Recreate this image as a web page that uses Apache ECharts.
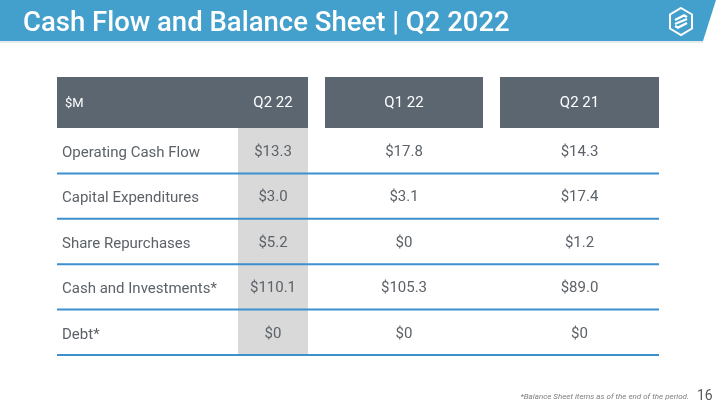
<!DOCTYPE html>
<html><head><meta charset="utf-8">
<script src="https://cdn.jsdelivr.net/npm/echarts@6/dist/echarts.min.js"></script>
<style>html,body{margin:0;padding:0;background:#fff}#c{width:720px;height:405px}</style>
</head><body><div id="c"></div>
<script>
// ---- data ----
const titleText = 'Cash Flow and Balance Sheet | Q2 2022';
const unitLabel = '$M';
const columns = ['Q2 22', 'Q1 22', 'Q2 21'];
const rowLabels = ['Operating Cash Flow', 'Capital Expenditures', 'Share Repurchases', 'Cash and Investments*', 'Debt*'];
const q2_22 = [13.3, 3.0, 5.2, 110.1, 0];
const q1_22 = [17.8, 3.1, 0, 105.3, 0];
const q2_21 = [14.3, 17.4, 1.2, 89.0, 0];
const footnote = '*Balance Sheet items as of the end of the period.';
const pageNum = '16';

// ---- layout (axis units = px within table) ----
const TABLE_W = 602;
const colSpans = [[181, 251], [268, 426], [443, 602]];
const colValues = [q2_22, q1_22, q2_21];
const FONT = "Roboto, 'Noto Sans', sans-serif";
const TXT = '#5c6268';
const HDR = '#5b6670';
const BLUE = '#3d8fcd';
const HIL = '#d9d9d9';

function fmt(v) { return '$' + (v === 0 ? '0' : v.toFixed(1)); }

const chart = echarts.init(document.getElementById('c'), null, {renderer: 'canvas'});

const series = [];
// header series
series.push({
  type: 'custom', xAxisIndex: 1, yAxisIndex: 1, z: 3,
  encode: {x: 0, y: 1},
  data: [unitLabel].concat(columns).map((t, i) => [i === 0 ? 8 : (colSpans[i - 1][0] + colSpans[i - 1][1]) / 2, 0, t]),
  renderItem: function (params, api) {
    const i = params.dataIndex;
    const c = api.coord([api.value(0), 0]);
    const h = api.size([0, 1])[1];
    const children = [];
    if (i > 0) {
      const s = colSpans[i - 1];
      const x0 = api.coord([i === 1 ? 0 : s[0], 0])[0];
      const x1 = api.coord([s[1], 0])[0];
      children.push({type: 'rect', shape: {x: x0, y: c[1] - h / 2, width: x1 - x0, height: h}, style: {fill: HDR}});
    }
    children.push({type: 'text', z2: 5, style: {
      text: i === 0 ? unitLabel : columns[i - 1], x: c[0], y: c[1] + 1,
      align: i === 0 ? 'left' : 'center', verticalAlign: 'middle',
      fill: '#ffffff', font: (i === 0 ? '13px ' : '15px ') + FONT}});
    return {type: 'group', children: children};
  }
});
// rows: highlight column + separators
series.push({
  type: 'custom', xAxisIndex: 0, yAxisIndex: 0, z: 2,
  encode: {x: 0, y: 1},
  data: rowLabels.map((r, i) => [0, i]),
  renderItem: function (params, api) {
    const i = params.dataIndex;
    const c = api.coord([0, i]);
    const h = api.size([0, 1])[1];
    const hx0 = api.coord([colSpans[0][0], i])[0];
    const hx1 = api.coord([colSpans[0][1], i])[0];
    const xe = api.coord([TABLE_W, i])[0];
    return {type: 'group', children: [
      {type: 'rect', z2: 0, shape: {x: hx0, y: c[1] - h / 2 - 0.5, width: hx1 - hx0, height: h + 1}, style: {fill: HIL}},
      {type: 'line', z2: 10, shape: {x1: c[0], y1: c[1] + h / 2, x2: xe, y2: c[1] + h / 2}, style: {stroke: BLUE, lineWidth: 2}}
    ]};
  }
});
// value columns
colValues.forEach((vals, k) => {
  const cx = (colSpans[k][0] + colSpans[k][1]) / 2;
  series.push({
    type: 'custom', name: columns[k], xAxisIndex: 0, yAxisIndex: 0, z: 4,
    encode: {x: 0, y: 1},
    data: vals.map((v, i) => [cx, i, v]),
    renderItem: function (params, api) {
      const c = api.coord([api.value(0), api.value(1)]);
      return {type: 'text', style: {text: fmt(api.value(2)), x: c[0], y: c[1] + 1.5, align: 'center', verticalAlign: 'middle', fill: TXT, font: '15px ' + FONT}};
    }
  });
});

chart.setOption({
  animation: false,
  backgroundColor: '#ffffff',
  title: {text: titleText, left: 18, top: 5, textStyle: {color: '#ffffff', fontSize: 27.5, fontWeight: 500, fontFamily: "Roboto, sans-serif"}},
  grid: [
    {left: 57, right: 61, top: 128, bottom: 50},
    {left: 57, right: 61, top: 77, height: 51}
  ],
  xAxis: [
    {type: 'value', gridIndex: 0, min: 0, max: TABLE_W, show: false},
    {type: 'value', gridIndex: 1, min: 0, max: TABLE_W, show: false}
  ],
  yAxis: [
    {type: 'category', gridIndex: 0, data: rowLabels, inverse: true,
      axisLine: {show: false}, axisTick: {show: false}, splitLine: {show: false},
      axisLabel: {inside: true, margin: 5, formatter: '{a|{value}}',
        rich: {a: {color: TXT, fontSize: 15, fontFamily: FONT, padding: [5, 0, 0, 0]}}}, z: 5},
    {type: 'category', gridIndex: 1, data: ['hdr'], show: false}
  ],
  series: series,
  graphic: [
    {type: 'polygon', z: 0, shape: {points: [[0, 0], [716, 0], [703, 41], [0, 41]]}, style: {fill: '#439fcb'}},
    {type: 'rect', z: 0, shape: {x: 0, y: 41, width: 703, height: 2}, style: {fill: '#e4eaef'}},
    {type: 'polygon', z: 1, shape: {points: [[681, 8], [692, 14.5], [692, 28.5], [681, 35], [670, 28.5], [670, 14.5]]}, style: {fill: 'none', stroke: '#ffffff', lineWidth: 2}},
    {type: 'polyline', z: 1, shape: {points: [[675, 20], [684, 15.5], [687, 17]]}, style: {stroke: '#ffffff', lineWidth: 2.5, fill: 'none'}},
    {type: 'polyline', z: 1, shape: {points: [[675, 26], [678, 27.5], [687, 23]]}, style: {stroke: '#ffffff', lineWidth: 2.5, fill: 'none'}},
    {type: 'line', z: 1, shape: {x1: 675, y1: 24, x2: 687, y2: 19}, style: {stroke: '#ffffff', lineWidth: 2}},
    {type: 'text', z: 1, style: {text: footnote, x: 689, y: 397, align: 'right', verticalAlign: 'middle', fill: '#7f7f7f', font: 'italic 8px ' + FONT}},
    {type: 'text', z: 1, style: {text: pageNum, x: 697, y: 396, align: 'left', verticalAlign: 'middle', fill: '#595959', font: '14px ' + FONT}}
  ]
});
</script></body></html>
